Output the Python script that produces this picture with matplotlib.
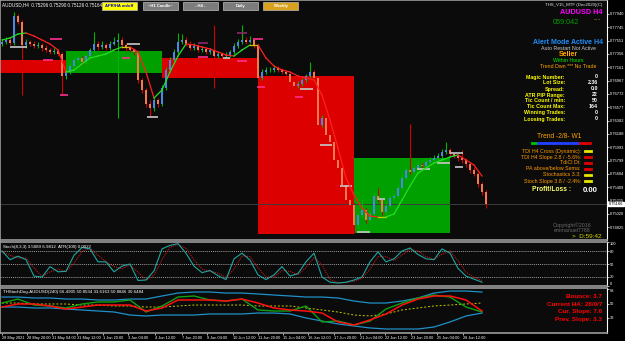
import matplotlib.pyplot as plt
from matplotlib.patches import Rectangle
from matplotlib.lines import Line2D
from matplotlib.transforms import blended_transform_factory

# ---- data ----
first_open = 0.77502
close = [
    0.77531, 0.77560, 0.77516, 0.77910, 0.77823, 0.77487, 0.77531, 0.77502, 0.77472, 0.77487,
    0.77443, 0.77414, 0.77385, 0.77399, 0.77356, 0.77034, 0.77093, 0.77180, 0.77268, 0.77297,
    0.77239, 0.77326, 0.77414, 0.77502, 0.77458, 0.77487, 0.77443, 0.77502, 0.77531, 0.77560,
    0.77487, 0.77443, 0.77414, 0.77385, 0.76976, 0.76830, 0.76626, 0.76568, 0.76684, 0.76626,
    0.76859, 0.77122, 0.77268, 0.77385, 0.77531, 0.77560, 0.77502, 0.77443, 0.77472, 0.77414,
    0.77429, 0.77385, 0.77414, 0.77326, 0.77356, 0.77326, 0.77341, 0.77385, 0.77472, 0.77531,
    0.77560, 0.77531, 0.77560, 0.77472, 0.77005, 0.77093, 0.77122, 0.77122, 0.77151, 0.77122,
    0.77093, 0.77064, 0.76947, 0.76888, 0.76918, 0.76976, 0.77034, 0.77093, 0.77005, 0.76319,
    0.76421, 0.76173, 0.76071, 0.75808, 0.75691, 0.75443, 0.75224, 0.75151, 0.74859, 0.75005,
    0.75078, 0.74932, 0.75020, 0.75282, 0.75224, 0.75049, 0.75137, 0.75253, 0.75282, 0.75399,
    0.75545, 0.75662, 0.75633, 0.75691, 0.75735, 0.75720, 0.75779, 0.75808, 0.75837, 0.75866,
    0.75925, 0.75954, 0.75896, 0.75866, 0.75837, 0.75808, 0.75750, 0.75662, 0.75604, 0.75458,
    0.75341, 0.75166]
high = [
    0.77575, 0.77610, 0.77590, 0.77969, 0.77940, 0.77850, 0.77580, 0.77560, 0.77540, 0.77530,
    0.77520, 0.77480, 0.77450, 0.77440, 0.77430, 0.77390, 0.77130, 0.77220, 0.77300, 0.77340,
    0.77330, 0.77360, 0.77450, 0.77677, 0.77540, 0.77540, 0.77520, 0.77550, 0.77600, 0.77662,
    0.77600, 0.77520, 0.77470, 0.77440, 0.77420, 0.77010, 0.76860, 0.76680, 0.76720, 0.76720,
    0.76900, 0.77160, 0.77310, 0.77430, 0.77662, 0.77650, 0.77600, 0.77540, 0.77510, 0.77500,
    0.77470, 0.77460, 0.77450, 0.77779, 0.77400, 0.77390, 0.77380, 0.77420, 0.77510, 0.77580,
    0.77779, 0.77600, 0.77620, 0.77590, 0.77500, 0.77130, 0.77160, 0.77160, 0.77190, 0.77180,
    0.77150, 0.77120, 0.77090, 0.76970, 0.76960, 0.77010, 0.77070, 0.77239, 0.77120, 0.77030,
    0.76460, 0.76450, 0.76210, 0.76100, 0.75840, 0.75720, 0.75470, 0.75260, 0.75180, 0.75040,
    0.75260, 0.75110, 0.75060, 0.75330, 0.75400, 0.75260, 0.75180, 0.75290, 0.75320, 0.75450,
    0.75600, 0.75700, 0.76333, 0.75730, 0.75780, 0.75760, 0.75830, 0.75850, 0.75880, 0.75910,
    0.75970, 0.76071, 0.75990, 0.75930, 0.75900, 0.75950, 0.75840, 0.75780, 0.75700, 0.75630,
    0.75480, 0.75370]
low = [
    0.77470, 0.77500, 0.77480, 0.77490, 0.77790, 0.76757, 0.77450, 0.77470, 0.77440, 0.77440,
    0.77400, 0.77380, 0.77350, 0.77350, 0.77320, 0.76757, 0.76990, 0.77060, 0.77150, 0.77230,
    0.77200, 0.77210, 0.77300, 0.77390, 0.77420, 0.77430, 0.77410, 0.77420, 0.77480, 0.76421,
    0.77450, 0.77400, 0.77380, 0.77340, 0.76930, 0.76780, 0.76580, 0.76436, 0.76530, 0.76580,
    0.76600, 0.76830, 0.77090, 0.77240, 0.77360, 0.77500, 0.77470, 0.77410, 0.77420, 0.77380,
    0.77390, 0.77350, 0.77360, 0.76859, 0.77300, 0.77290, 0.77300, 0.77310, 0.77360, 0.77450,
    0.77500, 0.77500, 0.77510, 0.77440, 0.76960, 0.76970, 0.77070, 0.77090, 0.77100, 0.77090,
    0.77060, 0.77030, 0.76910, 0.76850, 0.76860, 0.76890, 0.76950, 0.77010, 0.76970, 0.76280,
    0.76290, 0.76130, 0.76030, 0.75770, 0.75650, 0.75400, 0.75180, 0.75100, 0.74742, 0.74820,
    0.74980, 0.74890, 0.74900, 0.74990, 0.75190, 0.75010, 0.75010, 0.75100, 0.75220, 0.75250,
    0.75370, 0.75520, 0.75600, 0.75600, 0.75660, 0.75690, 0.75690, 0.75760, 0.75780, 0.75810,
    0.75840, 0.75900, 0.75860, 0.75830, 0.75800, 0.75770, 0.75710, 0.75620, 0.75570, 0.75420,
    0.75300, 0.75100]

# moving average, every second bar
ma = [
    0.77560, 0.77589, 0.77648, 0.77662, 0.77618, 0.77560, 0.77502, 0.77414, 0.77093, 0.77122,
    0.77210, 0.77297, 0.77326, 0.77356, 0.77414, 0.77458, 0.77458, 0.77385, 0.77093, 0.76713,
    0.76830, 0.77093, 0.77326, 0.77502, 0.77487, 0.77458, 0.77429, 0.77385, 0.77341, 0.77326,
    0.77414, 0.77487, 0.77487, 0.77297, 0.77180, 0.77122, 0.77093, 0.77034, 0.77005, 0.76976,
    0.76757, 0.76392, 0.75983, 0.75545, 0.75297, 0.75107, 0.74990, 0.74976, 0.74976, 0.75020,
    0.75224, 0.75428, 0.75618, 0.75691, 0.75764, 0.75808, 0.75852, 0.75881, 0.75808, 0.75735,
    0.75574]

# weekly boxes
box_start = [-0.5, 16, 40, 64, 88]
box_end = [16, 40, 64, 88, 112]
box_top = [0.77268, 0.77399, 0.77297, 0.77034, 0.75837]
box_bottom = [0.77078, 0.77078, 0.77005, 0.74728, 0.74742]
box_color = ["#dc0000", "#00a000", "#dc0000", "#dc0000", "#00a000"]

# short level marks
mark_start = [2, 31.25, 36.25, 55.25, 74.5, 79.5, 84.5, 88.75, 94, 103.75, 108.75, 112, 113.25,
              10.25, 14.5, 30, 49, 58.75, 63.75, 73.25, 12, 62.75, 49, 58.75]
mark_end = [6.25, 34.5, 39, 57, 77.75, 82.5, 87.5, 92, 95.75, 107, 112, 115.25, 115.25,
            12.75, 16.5, 32, 51.5, 61.25, 65.75, 75.25, 15, 65.25, 51.5, 61.25]
mark_price = [0.77458, 0.77502, 0.76436, 0.77297, 0.76845, 0.76027, 0.75428, 0.74757, 0.75239,
              0.75677, 0.75764, 0.75910, 0.75706,
              0.77268, 0.76757, 0.77297, 0.77312, 0.77253, 0.76874, 0.76728, 0.77575, 0.77575,
              0.77516, 0.77662]
mark_color = ["#c8c8c8"] * 13 + ["#ff2f8f"] * 9 + ["#8a2a6a"] * 2

price_ticks = [0.77940, 0.77745, 0.77551, 0.77356, 0.77161, 0.76967, 0.76772, 0.76577, 0.76382,
               0.76188, 0.75993, 0.75799, 0.75604, 0.75409, 0.75215, 0.75020, 0.74825]

# stochastic, every second bar
stoch_main = [80, 60, 68, 60, 22, 20, 44, 32, 33, 70, 88, 85, 55, 55, 32, 45, 50, 12, 13, 34,
              85, 93, 97, 75, 45, 30, 35, 23, 14, 62, 75, 59, 25, 14, 25, 44, 22, 28, 55, 75,
              20, 8, 6, 8, 13, 20, 55, 78, 55, 62, 80, 87, 72, 62, 60, 85, 75, 40, 22, 15, 8]
stoch_signal = [78, 70, 64, 64, 41, 21, 32, 38, 33, 52, 79, 86, 70, 55, 44, 39, 48, 31, 13, 24,
                60, 89, 95, 86, 60, 38, 33, 29, 19, 38, 69, 67, 42, 20, 20, 35, 33, 25, 42, 65,
                48, 14, 7, 7, 10, 17, 38, 67, 67, 58, 71, 84, 80, 67, 61, 73, 80, 58, 31, 19, 12]

# TDI style lower window, every fourth bar
tdi_upper = [58.1, 58.1, 56.9, 56.9, 55.6, 55.6, 54.4, 54.4, 55.6, 55.6, 59.4, 63.1, 64.4, 64.4,
             63.1, 63.1, 61.9, 60.6, 59.4, 58.1, 58.1, 56.9, 53.1, 50.6, 50.6, 53.1, 56.9, 63.1,
             65.6, 65.6, 64.4]
tdi_lower = [45.6, 45.6, 44.4, 44.4, 43.1, 41.9, 40.6, 39.4, 35.6, 34.4, 35.6, 35.6, 35.6, 36.9,
             36.9, 36.9, 38.1, 38.1, 36.9, 31.9, 28.1, 24.4, 21.9, 19.4, 18.1, 18.1, 18.1, 20.6,
             26.9, 34.4, 38.1]
tdi_mid = [50.6, 50.6, 49.4, 49.4, 49.4, 48.1, 48.1, 46.9, 46.9, 45.6, 45.6, 46.9, 48.1, 48.1,
           48.1, 48.1, 46.9, 46.9, 46.9, 44.4, 41.9, 39.4, 35.6, 34.4, 36.9, 41.9, 44.4, 46.9,
           48.1, 49.4, 50.6]
tdi_rsi = [50.6, 55.6, 48.1, 46.9, 44.4, 49.4, 51.9, 51.9, 54.4, 39.4, 46.9, 58.1, 59.4, 54.4,
           53.1, 55.6, 41.9, 40.6, 40.6, 46.9, 26.9, 28.1, 23.1, 28.1, 43.1, 50.6, 56.9, 60.6,
           58.1, 45.6, 39.4]
tdi_signal = [45.6, 49.4, 49.4, 46.9, 43.1, 45.6, 48.1, 48.1, 48.1, 40.6, 44.4, 54.4, 54.4, 54.4,
              53.1, 55.6, 50.6, 44.4, 41.9, 40.6, 38.1, 26.9, 23.1, 29.4, 36.9, 48.1, 55.6, 59.4,
              59.4, 54.4, 40.6]

time_label_bars = [0, 6.25, 12.5, 18.75, 25.25, 31.5, 38.25, 45, 51.25, 57.75, 64, 70.25,
                   76.5, 83, 89.5, 95.75, 102.25, 108.75, 115.25]
time_labels = ["28 May 2021", "28 May 20:00", "31 May 04:00", "31 May 12:00", "1 Jun 20:00",
               "3 Jun 04:00", "4 Jun 12:00", "7 Jun 20:00", "9 Jun 04:00", "10 Jun 12:00",
               "11 Jun 20:00", "15 Jun 04:00", "16 Jun 12:00", "17 Jun 20:00", "21 Jun 04:00",
               "22 Jun 12:00", "23 Jun 20:00", "25 Jun 04:00", "28 Jun 12:00"]

stats_labels = ["Magic Number:", "Lot Size:", "Spread:", "ATR PIP Range:", "Tic Count / min:",
                "Tic Count Max:", "Winning Trades:", "Loosing Trades:"]
stats_values = ["0", "2.36", "0.0", "22", "50", "164", "0", "0"]

signal_labels = ["TDI H4 Cross (Dynamic):", "TDI H4 Slope 2.8 / -5.6%:", "TdiCl Dt:",
                 "PA above/below Sema:", "Stochastics 3.3:", "Stoch Slope 3.8 / -2.4%:"]
signal_colors = ["#e6e600", "#e00000", "#e00000", "#e00000", "#e6e600", "#e6e600"]
trend_colors = ["#00c000"] + ["#2040ff"] * 7 + ["#e00000"] * 2

tdi_texts = ["Bounce: 3.7", "Current HA: 28/0/7", "Cur. Slope: 7.6", "Prev. Slope: 3.3"]

# ---- figure ----
W, H = 625, 341
plt.rcParams["font.family"] = ["Liberation Sans", "DejaVu Sans"]
AX_FS = 2.9


def fx(x):
    return x / W


def fy(y):
    return 1 - y / H


fig = plt.figure(figsize=(W / 100, H / 100), dpi=100, facecolor="black")


def panel(top, bottom, ylim):
    ax = fig.add_axes([0, fy(bottom), fx(607), (bottom - top) / H], facecolor="#0b0b0b")
    ax.set_xlim(-0.5, 151.25)
    ax.set_ylim(*ylim)
    for s in ax.spines.values():
        s.set_color("#9a9a9a")
        s.set_linewidth(1.2)
    ax.spines["right"].set_color("white")
    ax.spines["right"].set_linewidth(0.8)
    ax.yaxis.tick_right()
    ax.tick_params(axis="y", colors="white", labelsize=AX_FS, length=1.5, width=0.5, pad=0.5)
    ax.set_xticks([])
    return ax


n = len(close)
bars = list(range(n))
opens = [first_open] + close[:-1]

ax = panel(0, 240, (0.74640, 0.78144))

for s, e, t, b, c in zip(box_start, box_end, box_top, box_bottom, box_color):
    ax.add_patch(Rectangle((s, b), e - s, t - b, color=c, lw=0, zorder=1))

ax.axhline(close[-1], color="#3c3c3c", lw=0.7, zorder=1.5)

up = [c >= o for o, c in zip(opens, close)]
ax.vlines(bars, low, high, colors=["#00b400" if u else "#d00000" for u in up], lw=0.8, zorder=2)
ax.bar(bars, [max(abs(c - o), 0.00004) for o, c in zip(opens, close)],
       bottom=[min(o, c) for o, c in zip(opens, close)], width=0.7,
       color=["#4a86e8" if u else "#f5784f" for u in up], lw=0, zorder=3)

ax.hlines(mark_price, mark_start, mark_end, colors=mark_color, lw=1.2, zorder=4)

ma_bars = list(range(0, n - 1, 2))
for k in range(len(ma) - 1):
    d = ma[k + 1] - ma[k]
    col = "#22e022" if d > 0.00008 else ("#ff2020" if d < -0.00008 else "#d2c800")
    ax.plot(ma_bars[k:k + 2], ma[k:k + 2], color=col, lw=0.9, zorder=5)

ax.set_yticks(price_ticks)
ax.set_yticklabels([f"{p:.5f}" for p in price_ticks])
tr = blended_transform_factory(ax.transAxes, ax.transData)
ax.text(1.003, close[-1], f"{close[-1]:.5f}", transform=tr, fontsize=AX_FS, color="black",
        va="center", ha="left", bbox=dict(boxstyle="square,pad=0.1", fc="white", ec="white"))

# stochastic window
ax2 = panel(242, 286, (-0.8, 100.8))
for lvl in (80, 50, 20):
    ax2.axhline(lvl, color="#d0d0d0", lw=0.5, ls=(0, (1.5, 1.5)))
st_bars = list(range(0, n - 1, 2))
ax2.plot(st_bars, stoch_signal, color="#c01818", lw=0.8, ls=(0, (1, 1)))
ax2.plot(st_bars, stoch_main, color="#1fa5a0", lw=0.8)
ax2.set_yticks([100, 80, 50, 20, 0])
ax2.get_yticklabels()[0].set_va("top")
ax2.get_yticklabels()[-1].set_va("bottom")
ax2.text(0.005, 0.93, "Stoch(8,3,3) 3.5089 6.9812  ATR(100) 0.0022", transform=ax2.transAxes,
         fontsize=3.2, color="white", va="top")

# lower window
ax3 = panel(288, 333, (13.1, 69.4))
td_bars = list(range(0, n - 1, 4))
ax3.plot(td_bars, tdi_upper, color="#2090c8", lw=0.9)
ax3.plot(td_bars, tdi_lower, color="#2090c8", lw=0.9)
ax3.plot(td_bars, tdi_mid, color="#c8c800", lw=0.7, ls=(0, (2, 2)))
ax3.plot(td_bars, tdi_rsi, color="#10a010", lw=1.0)
ax3.plot(td_bars, tdi_signal, color="#ff1010", lw=1.1)
ax3.set_yticks([68, 50, 32])
ax3.get_yticklabels()[0].set_va("top")
ax3.set_xticks(time_label_bars)
ax3.set_xticklabels(time_labels, ha="left")
ax3.tick_params(axis="x", colors="white", labelsize=2.8, length=1.5, width=0.5, pad=0.8)
ax3.text(0.005, 0.95, "THStochDog-AUDUSD(240) 66.4905 50.8534 33.6163 50.8846 30.6484",
         transform=ax3.transAxes, fontsize=3.2, color="white", va="top")
for k, t in enumerate(tdi_texts):
    fig.text(fx(602), fy(297 + 7.5 * k), t, color="#ff0000", fontsize=4.6, weight="bold",
             ha="right", va="center")

# top bar
fig.text(fx(2), fy(5), "AUDUSD,H4  0.75296 0.75290 0.75126 0.75164", color="white",
         fontsize=3.3, va="center")
buttons = [("APR/HA on/off", 102, "#ffff00", "#0000c0"), ("~H1 Candle~", 143, "#7c7c7c", "white"),
           ("- H4 -", 183, "#7c7c7c", "white"), ("Daily", 223, "#7c7c7c", "white"),
           ("Weekly", 263, "#d9a21e", "white")]
for label, x0, bg, fg in buttons:
    fig.add_artist(Rectangle((fx(x0), fy(10)), fx(35), 8 / H, transform=fig.transFigure,
                             fc=bg, ec="#bdbdbd", lw=0.5))
    fig.text(fx(x0 + 17.5), fy(6), label, color=fg, fontsize=3.0, weight="bold",
             ha="center", va="center")

# info panel
fig.text(fx(602), fy(5), "THS_V15_MTF (Dec2020)(C)", color="#e0e0e0", fontsize=3.2,
         ha="right", va="center")
fig.text(fx(602), fy(12), "AUDUSD H4", color="#ff00ff", fontsize=5.2, weight="bold",
         ha="right", va="center")
fig.text(fx(553), fy(23), "059:042", color="#00a000", fontsize=5.2, va="center")
fig.text(fx(593), fy(19), ".....", color="#ffcc00", fontsize=4, va="center")
info = [("Alert Mode Active H4", "#1e90ff", 5.0, "bold", 43),
        ("Auto Restart Not Active", "#c8c8c8", 3.8, "normal", 49),
        ("Seller", "#ffa500", 5.0, "bold", 55),
        ("Within Hours", "#00ee00", 3.8, "normal", 61),
        ("Trend Dwn *** No Trade", "#ffa500", 3.8, "normal", 67)]
for t, c, sz, wt, y in info:
    fig.text(fx(568), fy(y), t, color=c, fontsize=sz, weight=wt, ha="center", va="center")
for k, (lab, val) in enumerate(zip(stats_labels, stats_values)):
    y = 77 + 6 * k
    fig.text(fx(565), fy(y), lab, color="#ffff00", fontsize=3.8, weight="bold",
             ha="right", va="center")
    fig.text(fx(598), fy(y), val, color="white", fontsize=3.8, weight="bold",
             ha="right", va="center")

fig.text(fx(559), fy(137), "Trend -2/8- W1", color="#ffa500", fontsize=4.8, ha="center",
         va="center")
for k, c in enumerate(trend_colors):
    x0 = 532 + 6 * k
    fig.add_artist(Line2D([fx(x0), fx(x0 + 4)], [fy(143), fy(143)], color=c, lw=2,
                          transform=fig.transFigure))
for k, (lab, c) in enumerate(zip(signal_labels, signal_colors)):
    y = 151 + 6 * k
    fig.text(fx(581), fy(y), lab, color="#ff9a00", fontsize=3.8, ha="right", va="center")
    fig.add_artist(Line2D([fx(585), fx(591)], [fy(y), fy(y)], color=c, lw=2,
                          transform=fig.transFigure))
fig.text(fx(552), fy(190), "Profit/Loss :", color="#ffff70", fontsize=4.8, weight="bold",
         ha="center", va="center")
fig.text(fx(598), fy(191), "0.00", color="white", fontsize=5.6, weight="bold",
         ha="right", va="center")
fig.text(fx(572), fy(225), "Copyright\u00a92016", color="#6a6a6a", fontsize=3.8, ha="center",
         va="center")
fig.text(fx(572), fy(231), "emmanuel7788", color="#6a6a6a", fontsize=3.8, ha="center",
         va="center")
fig.text(fx(602), fy(236), ">  D:59:42", color="#d6d600", fontsize=4.6, ha="right",
         va="center")

fig.savefig("out.png", dpi=100, facecolor="black")
